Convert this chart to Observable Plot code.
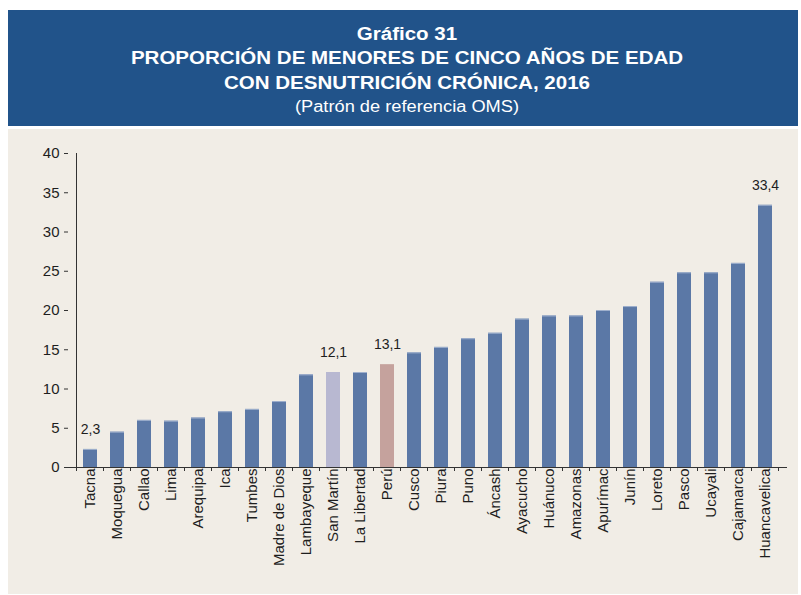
<!DOCTYPE html>
<html>
<head>
<meta charset="utf-8">
<script src="https://cdn.jsdelivr.net/npm/d3@7"></script>
<script src="https://cdn.jsdelivr.net/npm/@observablehq/plot@0.6"></script>
<style>
  html, body { margin: 0; padding: 0; background: #ffffff; }
  #page { position: relative; width: 801px; height: 595px; background: #ffffff; overflow: hidden; font-family: "Liberation Sans", Arial, sans-serif; }
  #header { position: absolute; left: 8px; top: 10px; width: 790px; height: 116px; background: #21538a; }
  .hl { position: absolute; left: 4px; width: 790px; text-align: center; color: #ffffff; white-space: nowrap; transform: scaleX(1.14); transform-origin: 395px 0; }
  .b { font-weight: bold; font-size: 18px; line-height: 18px; }
  .r { font-weight: normal; font-size: 16px; line-height: 16px; }
  #panel { position: absolute; left: 8px; top: 129px; width: 790px; height: 465px; background: #f1ede6; }
</style>
</head>
<body>
<div id="page">
  <div id="header">
    <div class="hl b" style="top:15px">Gráfico 31</div>
    <div class="hl b" style="top:39px">PROPORCIÓN DE MENORES DE CINCO AÑOS DE EDAD</div>
    <div class="hl b" style="top:64px">CON DESNUTRICIÓN CRÓNICA, 2016</div>
    <div class="hl r" style="top:89px">(Patrón de referencia OMS)</div>
  </div>
  <div id="panel"></div>
</div>
<script>
const regions = ["Tacna","Moquegua","Callao","Lima","Arequipa","Ica","Tumbes","Madre de Dios","Lambayeque","San Martín","La Libertad","Perú","Cusco","Piura","Puno","Áncash","Ayacucho","Huánuco","Amazonas","Apurímac","Junín","Loreto","Pasco","Ucayali","Cajamarca","Huancavelica"];
const values = [2.3,4.5,6.0,5.9,6.3,7.1,7.4,8.4,11.8,12.1,12.1,13.1,14.6,15.3,16.4,17.1,18.9,19.3,19.3,20.0,20.5,23.6,24.8,24.8,26.0,33.4];
const labelled = ["Tacna","San Martín","Perú","Huancavelica"];
const yTicks = [0,5,10,15,20,25,30,35,40];

const colorBlue = "#5b78a6";
const colorSanMartin = "#b8b8d1";
const colorPeru = "#c5a29d";
const colorBlueTop = "#9fb0cd";

const data = regions.map((r, i) => ({region: r, value: values[i]}));
const fillOf = d => d.region === "Perú" ? colorPeru : d.region === "San Martín" ? colorSanMartin : colorBlue;
const fmt = v => d3.format(".1f")(v).replace(".", ",");

const pInner = 0.47;

function boundaryTicks(index, scales) {
  const x = scales.x, y = scales.y;
  const bw = x.bandwidth();
  const st = x.step();
  const xs = regions.map(c => x(c) - (st - bw) / 2);
  xs.push(x(regions[regions.length - 1]) + bw + (st - bw) / 2);
  const y0 = y(0);
  const g = d3.create("svg:g").attr("stroke", "#333333").attr("stroke-width", 1);
  g.selectAll("line.t").data(xs).join("line").attr("class", "t")
    .attr("x1", d => d).attr("x2", d => d).attr("y1", y0).attr("y2", y0 + 4);
  g.append("line").attr("x1", xs[0]).attr("x2", xs[0]).attr("y1", y(yTicks[yTicks.length - 1])).attr("y2", y0);
  return g.node();
}

const chart = Plot.plot({
  width: 790,
  height: 465,
  marginLeft: 60,
  marginRight: 11,
  marginTop: 24,
  marginBottom: 127,
  style: {background: "transparent", fontFamily: "'Liberation Sans', Arial, sans-serif", fontSize: "15px", color: "#222"},
  x: {domain: regions, paddingInner: pInner, paddingOuter: pInner / 2, label: null},
  y: {domain: [0, 40], ticks: yTicks, label: null},
  marks: [
    Plot.barY(data, {x: "region", y: "value", fill: fillOf}),
    Plot.tickY(data.filter(d => fillOf(d) === colorBlue), {x: "region", y: "value", stroke: colorBlueTop, strokeWidth: 1}),
    Plot.ruleY([0], {stroke: "#333333", strokeWidth: 1}),
    boundaryTicks,
    Plot.axisY({ticks: yTicks, tickSize: 4, tickPadding: 5, fontSize: 15, stroke: "#333333", fill: "#1e1e1e", label: null}),
    Plot.axisX({tickSize: 0, tickPadding: 1, tickRotate: -90, fontSize: 15, fill: "#1e1e1e", label: null}),
    Plot.text(data.filter(d => labelled.includes(d.region)), {x: "region", y: "value", text: d => fmt(d.value), dy: -20, fontSize: 14, fill: "#1e1e1e"})
  ]
});
document.getElementById("panel").appendChild(chart);
</script>
</body>
</html>
